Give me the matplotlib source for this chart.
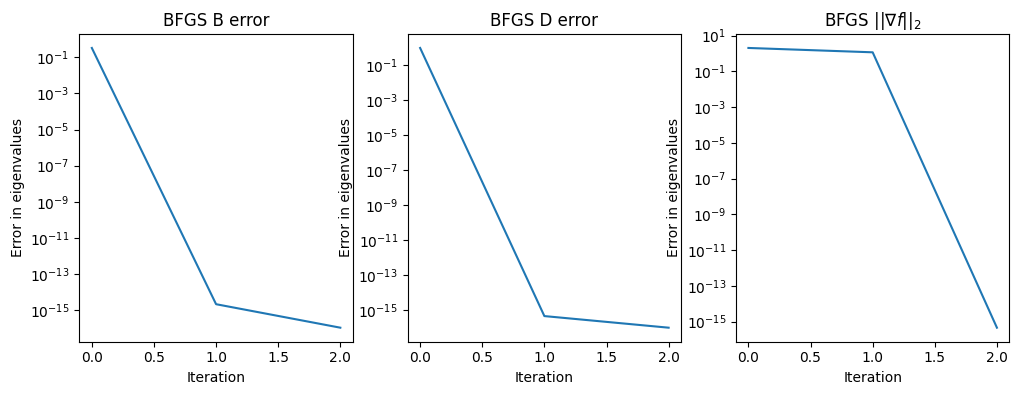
import matplotlib
matplotlib.use("Agg")
import matplotlib.pyplot as plt

iterations = [0, 1, 2]
b_error = [0.33, 2.1e-15, 1.05e-16]
d_error = [0.93, 4.6e-16, 1.0e-16]
grad_norm = [2.05, 1.17, 4.6e-16]

titles = ["BFGS B error", "BFGS D error", r"BFGS $||\nabla f||_2$"]
series = [b_error, d_error, grad_norm]

fig, axes = plt.subplots(1, 3, figsize=(10.18, 3.95), dpi=100)
fig.subplots_adjust(left=0.078, right=0.9915, bottom=0.135, top=0.914, wspace=0.201)

for ax, title, vals in zip(axes, titles, series):
    ax.plot(iterations, vals)
    ax.set_yscale("log")
    ax.set_title(title)
    ax.set_xlabel("Iteration")
    ax.set_ylabel("Error in eigenvalues")

plt.savefig("out.png")
